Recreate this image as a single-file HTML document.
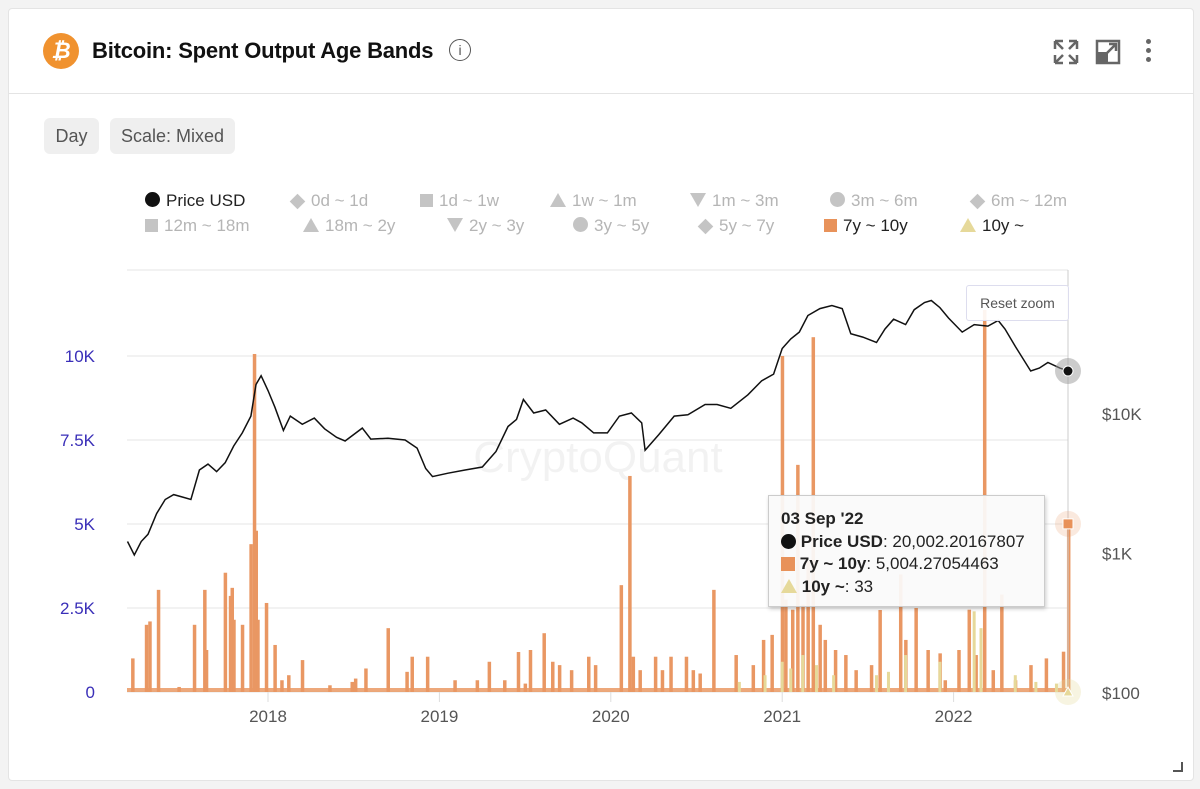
<!DOCTYPE html>
<html><head><meta charset="utf-8">
<style>
body{margin:0;background:#f3f3f3;font-family:"Liberation Sans",sans-serif;}
#card{position:absolute;left:8px;top:8px;width:1184px;height:771px;background:#fff;border:1px solid #e4e4e4;border-radius:4px;}
.btn{position:absolute;top:117px;height:36px;background:#efefef;border-radius:6px;color:#555;font-size:18px;line-height:36px;text-align:center;}
.leg{position:absolute;font-size:17px;color:#b5b5b5;white-space:nowrap;}
.leg .s{display:inline-block;margin-right:6px;vertical-align:-1px;}
</style></head><body>
<div id="card">
 <div style="position:absolute;left:34px;top:24px;width:36px;height:36px;border-radius:50%;background:#f0922f;color:#fff;font-weight:bold;font-size:22px;text-align:center;line-height:36px;font-style:italic">₿</div>
 <div style="position:absolute;left:83px;top:29px;font-size:22px;font-weight:bold;color:#111;letter-spacing:-0.2px">Bitcoin: Spent Output Age Bands</div>
 <div style="position:absolute;left:440px;top:30px;width:20px;height:20px;border:1.5px solid #555;border-radius:50%;font-size:14px;text-align:center;line-height:20px;color:#555">i</div>
 <svg style="position:absolute;left:1044px;top:30px" width="26" height="26" viewBox="0 0 26 26"><path d="M2 2h8M2 2v8M2 2l8 8M24 2h-8M24 2v8M24 2l-8 8M2 24h8M2 24v-8M2 24l8-8M24 24h-8M24 24v-8M24 24l-8-8" stroke="#666" stroke-width="2.5" fill="none"/></svg>
 <svg style="position:absolute;left:1086px;top:30px" width="26" height="26" viewBox="0 0 26 26"><rect x="2" y="2" width="22" height="22" fill="none" stroke="#666" stroke-width="2.5"/><rect x="2" y="13" width="11" height="11" fill="#666"/><path d="M12 14l9-9M14 5h7v7" stroke="#666" stroke-width="2.5" fill="none"/></svg>
 <div style="position:absolute;left:1137px;top:30px;width:6px;font-size:0">
  <div style="width:5px;height:5px;border-radius:50%;background:#666;margin-bottom:4px"></div><div style="width:5px;height:5px;border-radius:50%;background:#666;margin-bottom:4px"></div><div style="width:5px;height:5px;border-radius:50%;background:#666"></div></div>
 <div style="position:absolute;left:0;top:84px;width:1184px;height:1px;background:#e4e4e4"></div>
 <div class="btn" style="left:35px;top:109px;width:55px">Day</div>
 <div class="btn" style="left:101px;top:109px;width:125px">Scale: Mixed</div>
 <div style="position:absolute;right:10px;bottom:8px;width:8px;height:8px;border-right:2px solid #555;border-bottom:2px solid #555"></div>
</div>
<div id="legend"></div>
<svg id="chart" width="1200" height="789" style="position:absolute;left:0;top:0"></svg>
<div style="position:absolute;left:966px;top:285px;width:101px;height:34px;border:1px solid #dde;border-radius:3px;background:rgba(255,255,255,.9);font-size:14px;color:#555;text-align:center;line-height:34px">Reset zoom</div>
<div style="position:absolute;left:768px;top:495px;width:277px;height:112px;background:rgba(250,250,250,.93);border:1px solid #ccc;box-shadow:1px 2px 4px rgba(0,0,0,.2);font-size:17px;color:#222;line-height:22.5px;padding:12px 0 0 12px;box-sizing:border-box">
 <div style="font-weight:bold">03 Sep '22</div>
 <div><span style="display:inline-block;width:15px;height:15px;border-radius:50%;background:#111;vertical-align:-2px"></span> <b>Price USD</b>: 20,002.20167807</div>
 <div><span style="display:inline-block;width:14px;height:14px;background:#e8925a;vertical-align:-2px"></span> <b>7y ~ 10y</b>: 5,004.27054463</div>
 <div><span style="display:inline-block;width:0;height:0;border-left:8px solid transparent;border-right:8px solid transparent;border-bottom:14px solid #e6d99a;vertical-align:-1px"></span> <b>10y ~</b>: 33</div>
</div>
<script>
// ---- data ----
const priceDates=[2017.18,2017.22,2017.26,2017.3,2017.35,2017.4,2017.45,2017.5,2017.55,2017.6,2017.65,2017.7,2017.75,2017.8,2017.85,2017.9,2017.93,2017.96,2018.0,2018.04,2018.09,2018.13,2018.2,2018.27,2018.33,2018.4,2018.45,2018.55,2018.6,2018.7,2018.8,2018.87,2018.92,2018.96,2019.05,2019.15,2019.25,2019.33,2019.4,2019.45,2019.49,2019.55,2019.62,2019.7,2019.78,2019.83,2019.9,2019.98,2020.05,2020.12,2020.18,2020.2,2020.28,2020.37,2020.45,2020.55,2020.62,2020.7,2020.8,2020.88,2020.95,2021.0,2021.05,2021.1,2021.15,2021.22,2021.29,2021.35,2021.4,2021.47,2021.55,2021.6,2021.65,2021.72,2021.77,2021.83,2021.87,2021.92,2021.97,2022.05,2022.12,2022.2,2022.26,2022.3,2022.36,2022.45,2022.5,2022.55,2022.62,2022.67];
const priceValues=[1200,960,1200,1350,1900,2400,2600,2500,2400,3900,4300,3800,4400,5800,7200,9500,16000,18500,14500,11000,7500,9500,8300,9200,7700,6700,6300,7800,6500,6600,6400,5600,4000,3500,3700,3900,4100,5300,8000,9000,12500,10000,10500,8300,9200,8500,7200,7200,9500,10000,8500,5400,7000,9500,9700,11500,11500,10800,13500,17000,19000,29000,34000,38000,50000,56000,59000,56000,37000,35000,32000,40000,47000,43000,55000,62000,64000,57000,48000,38000,43000,42000,46000,40000,30000,20000,21000,23000,21000,20000];
const barDates=[2017.21,2017.29,2017.31,2017.36,2017.48,2017.57,2017.63,2017.64,2017.75,2017.78,2017.79,2017.8,2017.85,2017.9,2017.92,2017.93,2017.94,2017.99,2018.04,2018.08,2018.12,2018.2,2018.36,2018.49,2018.51,2018.57,2018.7,2018.81,2018.84,2018.93,2019.09,2019.22,2019.29,2019.38,2019.46,2019.5,2019.53,2019.61,2019.66,2019.7,2019.77,2019.87,2019.91,2020.06,2020.11,2020.13,2020.17,2020.26,2020.3,2020.35,2020.44,2020.48,2020.52,2020.6,2020.73,2020.83,2020.89,2020.94,2021.0,2021.02,2021.06,2021.09,2021.12,2021.15,2021.18,2021.22,2021.25,2021.31,2021.37,2021.43,2021.52,2021.57,2021.69,2021.72,2021.78,2021.85,2021.92,2021.95,2022.03,2022.09,2022.13,2022.18,2022.23,2022.28,2022.36,2022.45,2022.54,2022.64,2022.67];
const barValues=[1000,2000,2100,3040,150,2000,3040,1250,3550,2860,3100,2150,2000,4400,10060,4800,2150,2650,1400,350,500,950,200,300,400,700,1900,600,1050,1050,350,350,900,350,1190,250,1250,1750,900,800,650,1050,800,3180,6430,1050,650,1050,650,1050,1050,650,550,3040,1100,800,1550,1700,10000,2750,2450,6760,2600,3900,10560,2000,1550,1250,1100,650,800,2440,3500,1550,2500,1250,1150,350,1250,2450,1100,11370,650,2900,350,800,1000,1200,5004];
const oldDates=[2020.75,2020.9,2021.0,2021.05,2021.12,2021.2,2021.3,2021.55,2021.62,2021.72,2021.92,2022.12,2022.16,2022.36,2022.48,2022.6,2022.67];
const oldValues=[300,500,900,700,1100,800,500,500,600,1100,900,2400,1900,500,300,250,33];
const leftTicks=[0,2500,5000,7500,10000];
const leftLabels=["0","2.5K","5K","7.5K","10K"];
const rightTicks=[100,1000,10000];
const rightLabels=["$100","$1K","$10K"];
const years=[2018,2019,2020,2021,2022];
// ---- scales ----
const X0=127,X1=1068,Y0=692;
const x=t=>268+(t-2018)*171.4;
const yL=v=>Y0-v/2500*84;
const yR=v=>Y0-(Math.log10(v)-2)*139.5;
const NS="http://www.w3.org/2000/svg",svg=document.getElementById('chart');
function mk(tag,attrs,parent){const e=document.createElementNS(NS,tag);for(const k in attrs)e.setAttribute(k,attrs[k]);(parent||svg).appendChild(e);return e;}
mk('line',{x1:X0,x2:X1,y1:270,y2:270,stroke:'#e6e6e6'});
leftTicks.forEach((v,i)=>{
 const g=mk('line',{x1:X0,x2:X1,y1:yL(v),y2:yL(v),stroke:'#e6e6e6'});
 
 
 const t=mk('text',{x:95,y:yL(v)+6,'text-anchor':'end','font-size':17,fill:'#3a2fb8'});t.textContent=leftLabels[i];
 
 
});
rightTicks.forEach((v,i)=>{
 const t=mk('text',{x:1102,y:yR(v)+7,'font-size':17,fill:'#555'});t.textContent=rightLabels[i];
 
 
});
years.forEach(yv=>{
 mk('line',{x1:x(yv),x2:x(yv),y1:692,y2:702,stroke:'#ddd'});
 const t=mk('text',{x:x(yv),y:722,'text-anchor':'middle','font-size':17,fill:'#555'});t.textContent=yv;
 
 
});
const wm=mk('text',{x:598,y:472,'text-anchor':'middle','font-size':44,fill:'#000','fill-opacity':0.05});wm.textContent='CryptoQuant';


mk('rect',{x:X0,y:688,width:X1-X0,height:4,fill:'#e8925a',opacity:0.8});
barDates.forEach((d,i)=>{
 const b=mk('rect',{x:x(d)-1.5,y:yL(barValues[i]),width:3.5,height:Y0-yL(barValues[i]),fill:'#e99763'});
 
 
});
oldDates.forEach((d,i)=>{
 const b=mk('rect',{x:x(d)-1.5,y:yL(oldValues[i]),width:3,height:Y0-yL(oldValues[i]),fill:'#e6d99a'});
 
 
});
const pl=mk('polyline',{points:priceDates.map((d,i)=>x(d).toFixed(1)+','+yR(priceValues[i]).toFixed(1)).join(' '),fill:'none',stroke:'#111','stroke-width':1.5});


mk('line',{x1:X1,x2:X1,y1:270,y2:692,stroke:'#ccc'});
const last=priceDates.length-1;
mk('circle',{cx:X1,cy:yR(priceValues[last]),r:13,fill:'#999',opacity:.5});
mk('circle',{cx:X1,cy:yR(priceValues[last]),r:5,fill:'#111',stroke:'#fff'});
mk('circle',{cx:X1,cy:yL(barValues[barValues.length-1]),r:13,fill:'#e8925a',opacity:.2});
mk('rect',{x:X1-5,y:yL(barValues[barValues.length-1])-5,width:10,height:10,fill:'#e8925a',stroke:'#fff'});
mk('circle',{cx:X1,cy:Y0,r:13,fill:'#e6d99a',opacity:.3});
mk('path',{d:`M${X1-5} ${Y0+4}L${X1} ${Y0-5}L${X1+5} ${Y0+4}Z`,fill:'#e6d99a',stroke:'#fff'});
// legend
const legItems=[["Price USD","c",145,202,1],["0d ~ 1d","d",290,202],["1d ~ 1w","s",420,202],["1w ~ 1m","t",550,202],["1m ~ 3m","v",690,202],["3m ~ 6m","c",830,202],["6m ~ 12m","d",970,202],
["12m ~ 18m","s",145,227],["18m ~ 2y","t",303,227],["2y ~ 3y","v",447,227],["3y ~ 5y","c",573,227],["5y ~ 7y","d",698,227],["7y ~ 10y","s",824,227,2],["10y ~","t",960,227,3]];
const L=document.getElementById('legend');
legItems.forEach(it=>{
 const d=document.createElement('div');d.className='leg';
 
 
 d.style.left=it[2]+'px';d.style.top=(it[3]-11)+'px';
 const col=it[4]==1?'#111':it[4]==2?'#e8925a':it[4]==3?'#e6d99a':'#c4c4c4';
 if(it[4])d.style.color='#222';
 let sh='';
 if(it[1]=='c')sh=`<span class="s" style="width:15px;height:15px;border-radius:50%;background:${col}"></span>`;
 if(it[1]=='s')sh=`<span class="s" style="width:13px;height:13px;background:${col}"></span>`;
 if(it[1]=='d')sh=`<span class="s" style="width:11px;height:11px;background:${col};transform:rotate(45deg);margin:0 8px 0 2px"></span>`;
 if(it[1]=='t')sh=`<span class="s" style="width:0;height:0;border-left:8px solid transparent;border-right:8px solid transparent;border-bottom:14px solid ${col}"></span>`;
 if(it[1]=='v')sh=`<span class="s" style="width:0;height:0;border-left:8px solid transparent;border-right:8px solid transparent;border-top:14px solid ${col}"></span>`;
 d.innerHTML=sh+it[0];L.appendChild(d);
});
</script>
</body></html>
